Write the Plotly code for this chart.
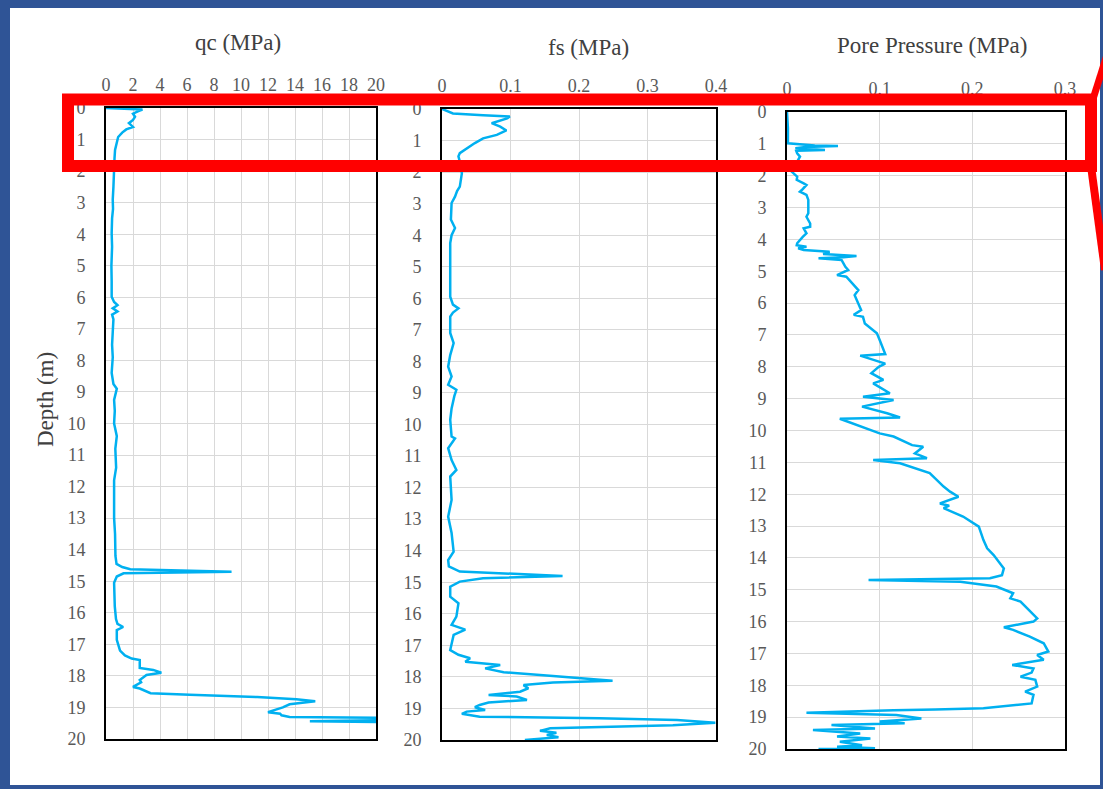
import plotly.graph_objects as go

# ---------------- data ----------------
qc_depth = [0.00, 0.03, 0.05, 0.10, 0.18, 0.28, 0.38, 0.48, 0.60, 0.68, 0.78, 0.92, 1.10, 1.33, 1.60,
            1.86, 2.20, 2.50, 2.90, 3.20, 3.50, 3.97, 4.40, 5.00, 5.50, 5.98, 6.15, 6.25, 6.35, 6.45,
            6.55, 6.70, 7.10, 7.50, 7.90, 8.40, 8.75, 8.90, 9.25, 9.60, 10.0, 10.4, 10.8, 11.1, 11.4,
            11.8, 12.1, 12.6, 13.0, 13.5, 13.9, 14.2, 14.45, 14.55, 14.62, 14.70, 14.75, 14.85, 15.05,
            15.4, 15.8, 16.2, 16.35, 16.45, 16.55, 16.86, 17.2, 17.35, 17.45, 17.5, 17.75, 17.81, 17.9,
            17.97, 18.13, 18.2, 18.35, 18.4, 18.55, 18.6, 18.67, 18.74, 18.8, 18.9, 19.0, 19.15, 19.2,
            19.25, 19.3, 19.33, 19.40, 19.44, 19.47]
qc_value = [0.0, 1.5, 2.7, 2.4, 2.0, 2.15, 2.0, 1.7, 2.0, 1.5, 1.2, 0.9, 0.78, 0.67, 0.63,
            0.62, 0.58, 0.55, 0.5, 0.52, 0.45, 0.42, 0.45, 0.4, 0.42, 0.42, 0.6, 0.85, 0.5, 0.85,
            0.45, 0.55, 0.5, 0.45, 0.5, 0.42, 0.55, 0.8, 0.6, 0.65, 0.6, 0.8, 0.69, 0.72, 0.75,
            0.6, 0.6, 0.62, 0.6, 0.67, 0.67, 0.7, 0.78, 1.2, 1.8, 9.3, 1.3, 0.8, 0.6,
            0.6, 0.65, 0.74, 0.85, 1.27, 0.8, 0.8, 1.04, 1.4, 1.9, 2.5, 2.5, 3.5, 4.1,
            3.0, 2.5, 2.6, 2.0, 2.5, 3.3, 6.2, 11.2, 14.1, 15.5, 13.6, 13.1, 12.0, 12.9,
            13.0, 13.6, 21.0, 21.0, 15.1, 21.0]

fs_depth = [0.00, 0.14, 0.20, 0.24, 0.30, 0.45, 0.56, 0.68, 0.82, 0.93, 1.08, 1.19, 1.30, 1.40, 1.50,
            1.75, 2.04, 2.25, 2.46, 2.60, 2.78, 2.98, 3.50, 3.77, 4.00, 4.25, 5.00, 5.95, 6.20, 6.32,
            6.45, 6.58, 7.10, 7.42, 7.80, 8.17, 8.48, 8.74, 8.90, 9.10, 9.49, 9.85, 10.38, 10.44, 10.75,
            11.13, 11.44, 11.65, 12.39, 12.92, 13.44, 13.92, 14.03, 14.30, 14.50, 14.66, 14.72, 14.80,
            14.87, 14.98, 15.14, 15.46, 15.67, 16.09, 16.35, 16.50, 16.67, 17.15, 17.30, 17.41, 17.52,
            17.62, 17.73, 17.85, 17.97, 18.05, 18.12, 18.18, 18.26, 18.36, 18.47, 18.57, 18.62, 18.73,
            18.81, 18.89, 18.96, 19.05, 19.10, 19.17, 19.26, 19.31, 19.37, 19.45, 19.53, 19.63, 19.71,
            19.77, 19.84, 19.91, 20.00]
fs_value = [0.0, 0.016, 0.06, 0.099, 0.095, 0.0725, 0.085, 0.094, 0.08, 0.06, 0.048, 0.041, 0.034, 0.026, 0.024,
            0.027, 0.029, 0.028, 0.026, 0.022, 0.019, 0.014, 0.013, 0.019, 0.014, 0.012, 0.012, 0.012, 0.016, 0.024,
            0.016, 0.012, 0.012, 0.017, 0.012, 0.009, 0.014, 0.009, 0.021, 0.018, 0.014, 0.012, 0.014, 0.019, 0.009,
            0.014, 0.021, 0.012, 0.014, 0.009, 0.014, 0.017, 0.017, 0.009, 0.01, 0.026, 0.085, 0.176,
            0.06, 0.026, 0.012, 0.012, 0.024, 0.021, 0.014, 0.034, 0.017, 0.012, 0.024, 0.041, 0.034,
            0.085, 0.063, 0.09, 0.162, 0.204, 0.249, 0.162, 0.119, 0.126, 0.114, 0.068, 0.109, 0.124,
            0.068, 0.055, 0.048, 0.063, 0.036, 0.029, 0.055, 0.23, 0.343, 0.399, 0.337, 0.158, 0.143,
            0.167, 0.153, 0.17, 0.121]

pp_depth = [0.00, 0.50, 0.98, 1.05, 1.07, 1.10, 1.14, 1.19, 1.22, 1.30, 1.40, 1.50, 1.70, 1.87, 2.03,
            2.13, 2.24, 2.29, 2.45, 2.50, 2.60, 2.76, 2.97, 3.18, 3.29, 3.50, 3.60, 3.65, 3.81, 3.92,
            4.12, 4.18, 4.23, 4.28, 4.33, 4.39, 4.46, 4.52, 4.56, 4.59, 4.65, 4.86, 4.96, 5.12, 5.17,
            5.59, 5.75, 6.00, 6.22, 6.37, 6.43, 6.64, 6.95, 7.16, 7.60, 7.65, 7.85, 7.90, 8.00, 8.20,
            8.41, 8.52, 8.83, 8.94, 9.04, 9.25, 9.46, 9.59, 9.63, 10.09, 10.19, 10.46, 10.51, 10.72,
            10.87, 10.93, 11.03, 11.34, 11.76, 11.92, 12.08, 12.18, 12.29, 12.36, 12.44, 12.70, 13.02,
            13.44, 13.70, 13.91, 14.17, 14.33, 14.54, 14.64, 14.69, 14.75, 14.90, 15.11, 15.27, 15.37,
            15.58, 15.90, 16.00, 16.18, 16.26, 16.47, 16.68, 16.94, 17.05, 17.20, 17.36, 17.47, 17.60,
            17.73, 17.83, 18.04, 18.20, 18.30, 18.57, 18.72, 18.76, 18.78, 18.86, 18.93, 19.04, 19.14,
            19.19, 19.25, 19.36, 19.40, 19.51, 19.61, 19.67, 19.77, 19.88, 19.93, 19.98, 20.00]
pp_value = [0.0, 0.001, 0.001, 0.03, 0.055, 0.02, 0.009, 0.041, 0.01, 0.011, 0.014, 0.012, 0.008, 0.005, 0.011,
            0.0105, 0.018, 0.021, 0.016, 0.014, 0.021, 0.023, 0.023, 0.023, 0.021, 0.025, 0.025, 0.018, 0.021, 0.017,
            0.011, 0.0105, 0.021, 0.012, 0.018, 0.046, 0.039, 0.075, 0.061, 0.034, 0.059, 0.063, 0.066, 0.054, 0.064,
            0.077, 0.073, 0.077, 0.08, 0.072, 0.082, 0.084, 0.097, 0.1, 0.106, 0.079, 0.1, 0.106, 0.099, 0.091,
            0.104, 0.093, 0.111, 0.082, 0.115, 0.081, 0.108, 0.122, 0.057, 0.1, 0.115, 0.135, 0.147, 0.138,
            0.151, 0.093, 0.122, 0.154, 0.169, 0.176, 0.185, 0.176, 0.165, 0.175, 0.169, 0.19, 0.207,
            0.212, 0.216, 0.223, 0.23, 0.234, 0.232, 0.219, 0.088, 0.187, 0.226, 0.244, 0.241, 0.252,
            0.259, 0.27, 0.266, 0.234, 0.244, 0.262, 0.277, 0.282, 0.27, 0.277, 0.243, 0.266, 0.264,
            0.252, 0.268, 0.27, 0.257, 0.266, 0.264, 0.212, 0.16, 0.115, 0.021, 0.118, 0.145, 0.1,
            0.127, 0.048, 0.095, 0.028, 0.079, 0.054, 0.09, 0.057, 0.081, 0.054, 0.095, 0.034]

panel_titles = ["qc (MPa)", "fs (MPa)", "Pore Pressure (MPa)"]
y_title = "Depth (m)"

# ---------------- layout helpers ----------------
W, H = 1103, 789
def px(x):
    return x / W
def py(y):
    return 1 - y / H

LINE = "#00B0F0"
GRID = "#D9D9D9"
TICK = "#595959"
TITLE = "#404040"
FONT = "Liberation Serif, Times New Roman, serif"

fig = go.Figure()
fig.add_trace(go.Scatter(x=qc_value, y=qc_depth, mode="lines", line=dict(color=LINE, width=2.5),
                         xaxis="x", yaxis="y", showlegend=False))
fig.add_trace(go.Scatter(x=fs_value, y=fs_depth, mode="lines", line=dict(color=LINE, width=2.5),
                         xaxis="x2", yaxis="y2", showlegend=False))
fig.add_trace(go.Scatter(x=pp_value, y=pp_depth, mode="lines", line=dict(color=LINE, width=2.5),
                         xaxis="x3", yaxis="y3", showlegend=False))

boxes = [(106, 376, 108, 739), (442, 716, 109, 740), (787, 1065, 112, 749)]
xranges = [([0, 20], 2), ([0, 0.4], 0.1), ([0, 0.3], 0.1)]

common = dict(showline=True, mirror=True, linecolor="black", linewidth=2,
              showgrid=True, gridcolor=GRID, gridwidth=1, zeroline=False, automargin=False,
              ticks="", tickfont=dict(family=FONT, size=18, color=TICK))

for i, ((x0, x1, y0, y1), (xr, dt)) in enumerate(zip(boxes, xranges)):
    sfx = "" if i == 0 else str(i + 1)
    fig.layout["xaxis" + sfx] = dict(common, domain=[px(x0), px(x1)], range=xr, dtick=dt,
                                     side="top", anchor="y" + sfx, ticklabelstandoff=8)
    fig.layout["yaxis" + sfx] = dict(common, domain=[py(y1), py(y0)], range=[20, 0], dtick=1,
                                     anchor="x" + sfx, ticklabelstandoff=15)

ann = []
for t, (cx, cy) in zip(panel_titles, [(238, 42), (588, 48), (932, 46)]):
    ann.append(dict(text=t, x=px(cx), y=py(cy), xref="paper", yref="paper", showarrow=False,
                    xanchor="center", yanchor="middle", font=dict(family=FONT, size=23, color=TITLE)))
ann.append(dict(text=y_title, x=px(45), y=py(400), xref="paper", yref="paper", showarrow=False,
                textangle=-90, xanchor="center", yanchor="middle",
                font=dict(family=FONT, size=23, color=TITLE)))

BLUE = "#2F5496"
shapes = [
    dict(type="rect", xref="paper", yref="paper", x0=0, x1=1, y0=py(0), y1=py(8),
         fillcolor=BLUE, line=dict(width=0), layer="above"),
    dict(type="rect", xref="paper", yref="paper", x0=0, x1=px(10), y0=0, y1=1,
         fillcolor=BLUE, line=dict(width=0), layer="above"),
    dict(type="rect", xref="paper", yref="paper", x0=px(1100), x1=1, y0=0, y1=1,
         fillcolor=BLUE, line=dict(width=0), layer="above"),
    dict(type="rect", xref="paper", yref="paper", x0=0, x1=1, y0=0, y1=py(785),
         fillcolor=BLUE, line=dict(width=0), layer="above"),
    dict(type="rect", xref="paper", yref="paper", x0=px(68), x1=px(1091), y0=py(99.5), y1=py(166),
         line=dict(color="#FF0000", width=12), fillcolor="rgba(0,0,0,0)", layer="above"),
    dict(type="line", xref="paper", yref="paper", x0=px(1093), y0=py(99), x1=px(1107), y1=py(55),
         line=dict(color="#FF0000", width=7), layer="above"),
    dict(type="line", xref="paper", yref="paper", x0=px(1091), y0=py(166), x1=px(1105), y1=py(270),
         line=dict(color="#FF0000", width=8), layer="above"),
]

fig.update_layout(width=W, height=H, margin=dict(l=0, r=0, t=0, b=0, autoexpand=False),
                  paper_bgcolor="white", plot_bgcolor="white",
                  annotations=ann, shapes=shapes, showlegend=False)

fig.write_html("out.html", config={"displayModeBar": False},
               post_script="document.body.style.margin='0';document.body.style.overflow='hidden';")
